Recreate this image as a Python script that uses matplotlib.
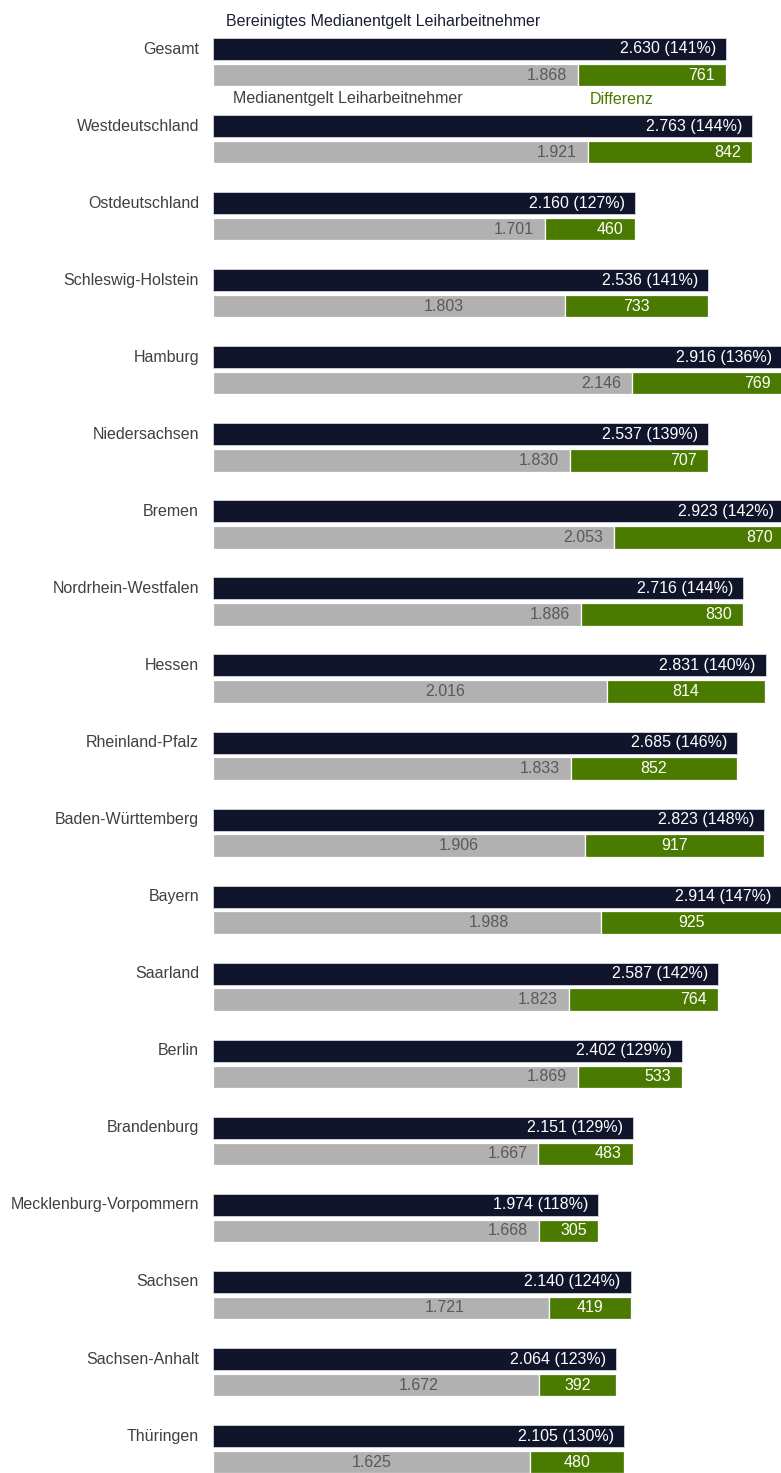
import matplotlib
matplotlib.use("Agg")
import matplotlib.pyplot as plt

plt.rcParams['font.family'] = ['Liberation Sans', 'DejaVu Sans']

regions = ["Gesamt", "Westdeutschland", "Ostdeutschland", "Schleswig-Holstein", "Hamburg",
           "Niedersachsen", "Bremen", "Nordrhein-Westfalen", "Hessen", "Rheinland-Pfalz",
           "Baden-Württemberg", "Bayern", "Saarland", "Berlin", "Brandenburg",
           "Mecklenburg-Vorpommern", "Sachsen", "Sachsen-Anhalt", "Thüringen"]
bereinigt = [2630, 2763, 2160, 2536, 2916, 2537, 2923, 2716, 2831, 2685,
             2823, 2914, 2587, 2402, 2151, 1974, 2140, 2064, 2105]
prozent = [141, 144, 127, 141, 136, 139, 142, 144, 140, 146,
           148, 147, 142, 129, 129, 118, 124, 123, 130]
median = [1868, 1921, 1701, 1803, 2146, 1830, 2053, 1886, 2016, 1833,
          1906, 1988, 1823, 1869, 1667, 1668, 1721, 1672, 1625]
differenz = [761, 842, 460, 733, 769, 707, 870, 830, 814, 852,
             917, 925, 764, 533, 483, 305, 419, 392, 480]

# label placement styles (None = right-aligned inside bar end)
grey_label_frac = [None, None, None, 0.655, None, None, None, None, 0.59, None,
                   0.66, 0.71, None, None, None, None, 0.69, 0.63, 0.50]
green_label_center = [False, False, False, True, False, False, False, False, True, True,
                      True, True, False, False, False, False, True, True, True]

legend_navy = "Bereinigtes Medianentgelt Leiharbeitnehmer"
legend_grey = "Medianentgelt Leiharbeitnehmer"
legend_green = "Differenz"

NAVY = "#10152b"
GREY = "#b1b1b1"
GREEN = "#4a7b00"

def fmt(v):
    return f"{v:,}".replace(",", ".")

W, H = 781, 1473
fig = plt.figure(figsize=(W / 100, H / 100), dpi=100)
ax_left = 213
ax = fig.add_axes([ax_left / W, 0, (W - ax_left) / W, 1])

px_per_unit = 0.1952      # x pixels per EUR
row_px = 77.06            # pixels per row
first_center_px = 49
xmax = (W - ax_left) / px_per_unit
ax.set_xlim(0, xmax)
ax.set_ylim((H - first_center_px) / row_px, -first_center_px / row_px)
ax.axis("off")

px_x = 1 / px_per_unit
px_y = 1 / row_px

navy_h = 22 * px_y
grey_h = 22.5 * px_y
grey_off = 26 * px_y
fs = 11.5

n = len(regions)
ys = list(range(n))
ys_grey = [y + grey_off for y in ys]

ax.barh(ys, bereinigt, height=navy_h, color=NAVY, edgecolor="#d4d6dc", linewidth=0.6)
ax.barh(ys_grey, median, height=grey_h, color=GREY, edgecolor="white", linewidth=0.9)
ax.barh(ys_grey, differenz, left=median, height=grey_h, color=GREEN, edgecolor="white", linewidth=0.9)

for i in range(n):
    y = ys[i]
    yg = ys_grey[i]
    ax.text(-14 * px_x, y, regions[i], ha="right", va="center", fontsize=fs,
            color="#404040", clip_on=False)
    ax.text(bereinigt[i] - 10 * px_x, y, f"{fmt(bereinigt[i])} ({prozent[i]}%)",
            ha="right", va="center", fontsize=fs, color="white")
    if grey_label_frac[i] is None:
        ax.text(median[i] - 11 * px_x, yg, fmt(median[i]), ha="right", va="center",
                fontsize=fs, color="#595959")
    else:
        ax.text(median[i] * grey_label_frac[i], yg, fmt(median[i]), ha="center",
                va="center", fontsize=fs, color="#595959")
    if green_label_center[i]:
        ax.text(median[i] + differenz[i] / 2, yg, fmt(differenz[i]), ha="center",
                va="center", fontsize=fs, color="white")
    else:
        ax.text(median[i] + differenz[i] - 11 * px_x, yg, fmt(differenz[i]),
                ha="right", va="center", fontsize=fs, color="white")

# legend labels placed around the first row
ax.text(13 * px_x, ys[0] - 27.3 * px_y, legend_navy, ha="left", va="center",
        fontsize=fs, color="#1a1f33")
ax.text(20 * px_x, ys[0] + 50 * px_y, legend_grey, ha="left", va="center",
        fontsize=fs, color="#404040")
ax.text(median[0] + 12 * px_x, ys[0] + 50 * px_y, legend_green, ha="left", va="center",
        fontsize=fs, color=GREEN)

fig.savefig("out.png", dpi=100, facecolor="white")
